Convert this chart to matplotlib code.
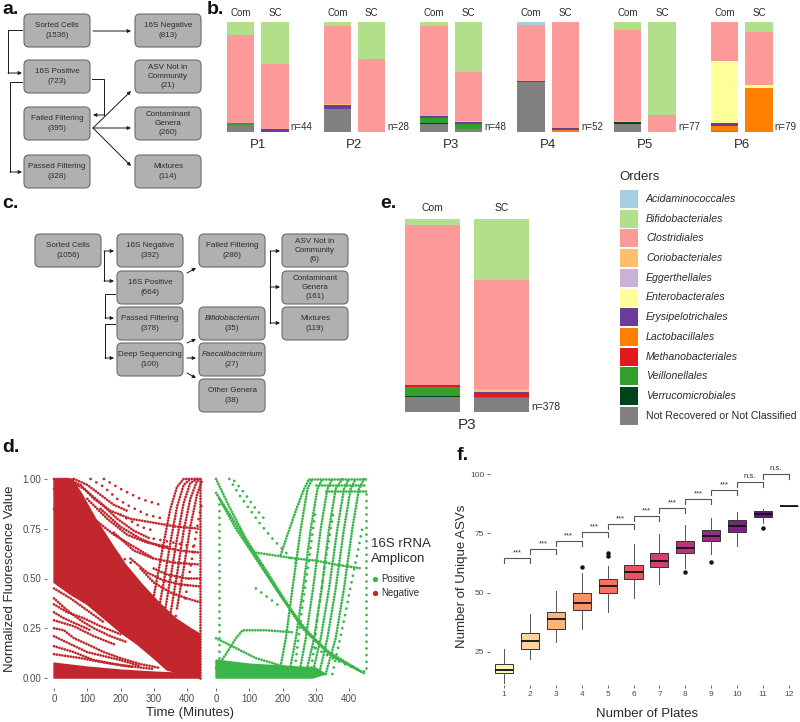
import numpy as np
import matplotlib.pyplot as plt
from matplotlib.patches import FancyBboxPatch, Rectangle, Polygon

plt.rcParams['font.family'] = ['Liberation Sans', 'DejaVu Sans']

W, H = 800, 722

# ---------------- data ----------------
orders = ['Acidaminococcales', 'Bifidobacteriales', 'Clostridiales', 'Coriobacteriales',
          'Eggerthellales', 'Enterobacterales', 'Erysipelotrichales', 'Lactobacillales',
          'Methanobacteriales', 'Veillonellales', 'Verrucomicrobiales',
          'Not Recovered or Not Classified']
order_colors = ['#A6CEE3', '#B2DF8A', '#FB9A99', '#FDBF6F', '#CAB2D6', '#FFFF99',
                '#6A3D9A', '#FF7F00', '#E31A1C', '#33A02C', '#00441B', '#808080']

plates = ['P1', 'P2', 'P3', 'P4', 'P5', 'P6']
plate_n = [44, 28, 48, 52, 77, 79]
# fractions per order (same order as `orders`)
com_fracs = [
    [0, 0.116, 0.800, 0, 0, 0, 0, 0, 0, 0.021, 0, 0.063],
    [0, 0.040, 0.705, 0.005, 0, 0, 0.043, 0, 0, 0, 0, 0.207],
    [0, 0.034, 0.821, 0, 0, 0, 0.008, 0, 0.007, 0.045, 0.009, 0.076],
    [0.024, 0, 0.516, 0, 0, 0, 0.005, 0, 0, 0, 0, 0.455],
    [0, 0.076, 0.823, 0.010, 0, 0, 0, 0, 0, 0, 0.015, 0.076],
    [0, 0, 0.354, 0, 0, 0.561, 0.030, 0.046, 0, 0, 0, 0.009],
]
sc_fracs = [
    [0, 0.380, 0.595, 0, 0, 0, 0.025, 0, 0, 0, 0, 0],
    [0, 0.338, 0.662, 0, 0, 0, 0, 0, 0, 0, 0, 0],
    [0, 0.450, 0.453, 0.009, 0, 0, 0.018, 0, 0, 0.040, 0, 0.030],
    [0, 0, 0.963, 0, 0, 0, 0.015, 0.022, 0, 0, 0, 0],
    [0, 0.848, 0.152, 0, 0, 0, 0, 0, 0, 0, 0, 0],
    [0, 0.091, 0.482, 0, 0, 0.024, 0, 0.403, 0, 0, 0, 0],
]
deep_plate = 'P3'
deep_n = 378
deep_com = [0, 0.030, 0.829, 0, 0, 0, 0.006, 0, 0.006, 0.047, 0.004, 0.078]
deep_sc = [0, 0.316, 0.566, 0.012, 0, 0, 0.012, 0, 0.014, 0.008, 0, 0.072]

flow_a_labels = ['Sorted Cells', '16S Negative', '16S Positive', 'ASV Not in\nCommunity',
                 'Failed Filtering', 'Contaminant\nGenera', 'Passed Filtering', 'Mixtures']
flow_a_counts = [1536, 813, 723, 21, 395, 260, 328, 114]

flow_c_labels = ['Sorted Cells', '16S Negative', 'Failed Filtering', 'ASV Not in\nCommunity',
                 '16S Positive', 'Contaminant\nGenera', 'Passed Filtering', 'Bifidobacterium',
                 'Mixtures', 'Deep Sequencing', 'Faecalibacterium', 'Other Genera']
flow_c_counts = [1056, 392, 286, 6, 664, 161, 378, 35, 119, 100, 27, 38]
flow_c_italic = [False] * 7 + [True, False, False, True, False]

# fluorescence traces (time in minutes, normalized value)
neg_fill = [
    [(0, 1.0), (55, 1.0), (85, 0.92), (125, 0.8), (175, 0.67), (215, 0.57), (265, 0.47),
     (315, 0.38), (365, 0.3), (410, 0.25), (440, 0.22), (440, 0.0), (340, 0.04), (300, 0.1),
     (250, 0.17), (200, 0.23), (150, 0.3), (100, 0.37), (50, 0.42), (0, 0.48)],
    [(0, 0.0), (440, 0.0), (440, 0.02), (300, 0.03), (200, 0.04), (100, 0.055), (0, 0.075)],
]
neg_traces = [
    [(0, 1.0), (40, 1.0), (80, 0.97), (120, 0.9), (170, 0.84), (230, 0.8), (300, 0.78), (370, 0.76), (440, 0.75)],
    [(60, 1.0), (100, 0.97), (140, 0.92), (180, 0.87), (220, 0.84)],
    [(40, 1.0), (90, 0.95), (140, 0.88), (190, 0.8), (240, 0.74), (290, 0.7)],
    [(0, 0.95), (60, 0.88), (120, 0.8), (180, 0.72), (240, 0.66), (300, 0.6)],
    [(100, 0.9), (160, 0.8), (220, 0.72), (280, 0.68), (340, 0.66)],
    [(140, 0.85), (200, 0.76), (260, 0.7), (320, 0.66), (380, 0.64), (440, 0.63)],
    [(180, 0.73), (240, 0.64), (300, 0.6), (360, 0.58), (440, 0.57)],
    [(230, 0.6), (280, 0.53), (330, 0.49), (380, 0.47), (440, 0.46)],
    [(260, 0.55), (300, 0.48), (350, 0.43), (400, 0.4), (440, 0.38)],
    [(300, 0.55), (340, 0.52), (400, 0.5), (440, 0.5)],
    [(290, 0.32), (310, 0.5), (330, 0.68), (350, 0.85), (370, 0.96), (390, 1.0), (440, 1.0)],
    [(310, 0.3), (330, 0.48), (350, 0.68), (370, 0.86), (390, 0.97), (410, 1.0)],
    [(330, 0.3), (350, 0.5), (370, 0.7), (390, 0.88), (410, 0.98), (430, 1.0)],
    [(350, 0.32), (370, 0.52), (390, 0.74), (410, 0.9), (430, 0.99), (445, 1.0)],
    [(370, 0.35), (390, 0.55), (410, 0.76), (430, 0.92), (445, 0.99)],
    [(0, 0.25), (30, 0.24), (60, 0.2), (100, 0.17), (150, 0.13), (200, 0.1), (260, 0.07), (320, 0.05)],
    [(0, 0.21), (50, 0.17), (100, 0.13), (150, 0.11), (200, 0.09), (260, 0.06)],
    [(0, 0.16), (60, 0.13), (120, 0.09), (200, 0.065), (300, 0.045)],
    [(0, 0.12), (80, 0.1), (160, 0.075), (240, 0.055)],
    [(0, 0.45), (50, 0.4), (100, 0.34), (150, 0.28)],
    [(0, 0.4), (40, 0.34), (80, 0.29), (120, 0.25), (170, 0.21), (220, 0.18)],
    [(0, 0.37), (40, 0.33), (90, 0.3), (140, 0.26), (200, 0.22)],
    [(0, 0.33), (30, 0.3), (70, 0.27), (110, 0.24)],
    [(0, 0.29), (60, 0.26), (120, 0.21), (180, 0.17)],
    [(440, 0.0), (440, 1.0)],
]
neg_sparse = [
    [(110, 1.0), (150, 0.96), (190, 0.9), (230, 0.86), (280, 0.82), (330, 0.8)],
    [(150, 1.0), (200, 0.95), (260, 0.9), (320, 0.87)],
    [(395, 0.4), (415, 0.6), (435, 0.8), (445, 0.88)],
    [(200, 0.5), (260, 0.42), (320, 0.35), (380, 0.3)],
    [(300, 0.7), (360, 0.68), (420, 0.66)],
    [(0, 0.85), (60, 0.78), (120, 0.7), (180, 0.63), (240, 0.57)],
    [(200, 0.82), (260, 0.76), (300, 0.74)],
]
pos_fill = [
    [(0, 0.0), (290, 0.0), (330, 0.02), (300, 0.05), (200, 0.06), (100, 0.07), (0, 0.09)],
]
pos_traces = [
    [(0, 1.0), (40, 0.86), (90, 0.7), (170, 0.49), (250, 0.28), (330, 0.14), (430, 0.04)],
    [(0, 0.93), (50, 0.8), (100, 0.66), (180, 0.45), (260, 0.25), (340, 0.12), (440, 0.03)],
    [(10, 0.9), (60, 0.75), (120, 0.6), (200, 0.4), (280, 0.22), (360, 0.1), (450, 0.02)],
    [(120, 0.63), (160, 0.62), (200, 0.61), (240, 0.6)],
    [(195, 0.62), (215, 0.72), (240, 0.84), (265, 0.95), (280, 1.0)],
    [(0, 0.05), (30, 0.12), (60, 0.2), (80, 0.24), (150, 0.24), (230, 0.23)],
    [(0, 0.2), (60, 0.15), (120, 0.1), (200, 0.06), (280, 0.03)],
    [(190, 0.02), (210, 0.2), (230, 0.45), (255, 0.75), (275, 0.95), (290, 1.0)],
    [(220, 0.02), (240, 0.2), (262, 0.45), (285, 0.75), (305, 0.95), (320, 1.0)],
    [(250, 0.02), (270, 0.2), (292, 0.45), (315, 0.75), (335, 0.95), (350, 1.0)],
    [(270, 0.02), (295, 0.2), (318, 0.45), (340, 0.75), (360, 0.95), (380, 1.0)],
    [(290, 0.02), (315, 0.2), (340, 0.45), (365, 0.75), (385, 0.95), (400, 1.0)],
    [(310, 0.02), (335, 0.2), (360, 0.45), (385, 0.75), (405, 0.95), (420, 1.0)],
    [(330, 0.02), (360, 0.2), (385, 0.45), (410, 0.75), (430, 0.95), (445, 1.0)],
    [(280, 1.0), (450, 1.0)],
    [(300, 0.97), (450, 0.97)],
    [(330, 0.94), (450, 0.94)],
    [(240, 0.6), (300, 0.59), (360, 0.57), (440, 0.55)],
]
pos_sparse = [
    [(40, 1.0), (70, 0.92), (100, 0.85), (130, 0.78), (170, 0.7), (210, 0.63), (250, 0.56)],
    [(55, 0.99), (85, 0.93), (115, 0.86), (145, 0.8)],
    [(8, 0.1), (8, 0.9)],
    [(300, 0.15), (350, 0.1), (400, 0.06), (450, 0.03)],
    [(450, 0.05), (450, 0.95)],
    [(350, 0.02), (380, 0.25), (410, 0.5), (440, 0.75)],
    [(120, 0.45), (160, 0.4), (200, 0.35)],
    [(235, 0.02), (255, 0.3), (280, 0.6), (300, 0.85)],
    [(285, 0.02), (305, 0.3), (330, 0.6), (355, 0.85)],
]
neg_color = '#C1272D'
pos_color = '#39B54A'

# boxplot of unique ASVs vs number of plates
n_plates = list(range(1, 13))
asv_med = [17.4, 29.5, 38.9, 45.8, 52.8, 58.8, 63.5, 69.0, 73.9, 78.1, 83.2, 86.4]
asv_q1 = [16.0, 26.1, 34.8, 42.7, 49.7, 55.6, 60.7, 66.6, 71.6, 75.6, 81.9, 86.4]
asv_q3 = [19.8, 32.9, 41.7, 49.7, 55.8, 61.7, 66.6, 71.8, 76.4, 80.6, 84.4, 86.4]
asv_lo = [12.1, 21.9, 29.1, 34.8, 41.7, 47.9, 53.7, 60.3, 66.2, 69.7, 79.2, 86.4]
asv_hi = [26.1, 40.9, 50.7, 58.2, 61.2, 70.4, 74.6, 78.5, 81.6, 84.1, 85.3, 86.4]
asv_out = [[], [], [], [60.8], [66.6, 65.6], [], [], [58.6], [62.8], [], [77.4], []]
sig_y = [64.5, 68.3, 71.8, 75.4, 78.8, 82.3, 85.8, 89.5, 93.3, 96.8, 100.2]
sig_text = ['***'] * 9 + ['n.s.'] * 2

# ---------------- figure ----------------
fig = plt.figure(figsize=(W / 100, H / 100), dpi=100)


def px_axes(x0, y0, x1, y1):
    ax = fig.add_axes([x0 / W, 1 - y1 / H, (x1 - x0) / W, (y1 - y0) / H])
    ax.set_facecolor('none')
    return ax


ov = fig.add_axes([0, 0, 1, 1])
ov.set_xlim(0, W)
ov.set_ylim(H, 0)
ov.axis('off')

txt_col = '#2b2b2b'


def box(x0, y0, w, h, label, count, italic=False):
    ov.add_patch(FancyBboxPatch((x0, y0), w, h, boxstyle='round,pad=0,rounding_size=5',
                                fc='#B0B0B0', ec='#6a6a6a', lw=0.8))
    lines = label.split('\n') + ['(%d)' % count]
    n = len(lines)
    for k, ln in enumerate(lines):
        yy = y0 + h / 2 + (k - (n - 1) / 2) * 9.4
        style = 'italic' if (italic and k < n - 1) else 'normal'
        ov.text(x0 + w / 2, yy, ln, ha='center', va='center', fontsize=5.8,
                color=txt_col, style=style)


def arrow(x0, y0, x1, y1):
    ov.annotate('', xy=(x1, y1), xytext=(x0, y0),
                arrowprops=dict(arrowstyle='-|>', color='#1a1a1a', lw=0.7,
                                mutation_scale=5, shrinkA=0, shrinkB=0))


def line(xs, ys):
    ov.plot(xs, ys, color='#1a1a1a', lw=0.7)


# panel a
a_cols = [24, 135]
a_rows = [14, 60, 107, 155]
for i, (lab, cnt) in enumerate(zip(flow_a_labels, flow_a_counts)):
    box(a_cols[i % 2], a_rows[i // 2], 66, 33, lab, cnt)
arrow(93, 31, 131, 31)
line([22, 8, 8], [30, 30, 73])
arrow(8, 73, 22, 73)
line([22, 10, 10], [82, 82, 172])
arrow(10, 172, 22, 172)
line([92, 104, 104], [79, 79, 115])
arrow(104, 115, 93, 115)
arrow(93, 128, 131, 91)
arrow(93, 128, 131, 128)
arrow(93, 128, 131, 166)

# panel c
c_cols = [35, 117, 199, 282]
c_rows = [234, 271, 307, 343, 379]
c_grid = [(0, 0), (1, 0), (2, 0), (3, 0), (1, 1), (3, 1), (1, 2), (2, 2), (3, 2),
          (1, 3), (2, 3), (2, 4)]
for (ci, ri), lab, cnt, it in zip(c_grid, flow_c_labels, flow_c_counts, flow_c_italic):
    box(c_cols[ci], c_rows[ri], 66, 33, lab, cnt, it)
line([104, 104], [251, 281])
arrow(104, 251, 114, 251)
arrow(104, 281, 114, 281)
line([115, 105, 105], [294, 294, 318])
arrow(105, 318, 114, 318)
line([115, 105, 105], [324, 324, 358])
arrow(105, 358, 114, 358)
arrow(187, 273, 196, 268)
line([270, 270], [251, 323])
for yy in (251, 287, 323):
    arrow(270, yy, 280, yy)
arrow(187, 343, 196, 339)
arrow(187, 358, 196, 358)
arrow(187, 373, 196, 378)

# panel letters
for s, (x, y) in zip(['a.', 'b.', 'c.', 'e.', 'd.', 'f.'],
                     [(2, 9), (207, 10), (2, 203), (380, 203), (2, 447), (457, 456)]):
    ov.text(x, y, s, fontsize=14, fontweight='bold', va='center', ha='left', color='#111')


# panel b
def stack(ax, x, fracs):
    bottom = 0.0
    for j in range(len(orders) - 1, -1, -1):
        if fracs[j] > 0:
            ax.bar(x, fracs[j], bottom=bottom, width=1.0, color=order_colors[j], lw=0)
            bottom += fracs[j]


axb = px_axes(200, 22, 800, 132)
step, off = 3.52, 1.25
for i, p in enumerate(plates):
    xc = i * step
    stack(axb, xc, com_fracs[i])
    stack(axb, xc + off, sc_fracs[i])
    axb.text(xc, 1.04, 'Com', ha='center', va='bottom', fontsize=7, color=txt_col)
    axb.text(xc + off, 1.04, 'SC', ha='center', va='bottom', fontsize=7, color=txt_col)
    axb.text(xc + off + 0.58, 0, 'n=%d' % plate_n[i], ha='left', va='bottom',
             fontsize=7, color=txt_col)
    axb.text(xc + off / 2, -0.06, p, ha='center', va='top', fontsize=9.5, color=txt_col)
axb.set_xlim(-1.473, 20.345)
axb.set_ylim(0, 1)
axb.axis('off')

# panel e
axe = px_axes(405, 219, 529, 412)
stack(axe, 0, deep_com)
stack(axe, off, deep_sc)
axe.text(0, 1.03, 'Com', ha='center', va='bottom', fontsize=7.5, color=txt_col)
axe.text(off, 1.03, 'SC', ha='center', va='bottom', fontsize=7.5, color=txt_col)
axe.text(off + 0.55, 0, 'n=%d' % deep_n, ha='left', va='bottom', fontsize=7.5, color=txt_col)
axe.text(off / 2, -0.03, deep_plate, ha='center', va='top', fontsize=11, color=txt_col)
axe.set_xlim(-0.5, 1.75)
axe.set_ylim(0, 1)
axe.axis('off')

# legend for orders
ov.text(619, 177, 'Orders', fontsize=9.5, va='center', ha='left', color=txt_col)
for i, (o, c) in enumerate(zip(orders, order_colors)):
    y0 = 190 + i * 19.7
    ov.add_patch(Rectangle((620, y0), 18, 18, fc=c, ec='none'))
    ov.text(646, y0 + 9, o, fontsize=7.6, va='center', ha='left', color=txt_col,
            style='normal' if i == len(orders) - 1 else 'italic')


# panel d
def dotted(ax, pts, color, gap):
    t = [p[0] for p in pts]
    v = [p[1] for p in pts]
    ax.plot(t, v, color=color, lw=2.0, linestyle=(0, (0.01, gap)),
            dash_capstyle='round', clip_on=False)


def style_axis(ax):
    for sp in ax.spines.values():
        sp.set_visible(False)
    ax.tick_params(length=2.5, width=0.5, color='#333333', labelsize=7,
                   labelcolor='#4D4D4D', pad=1.5)


axd1 = px_axes(46.7, 469, 207.6, 688)
axd2 = px_axes(208.7, 469, 369.6, 688)
for ax, fills, dense, sparse, col in [(axd1, neg_fill, neg_traces, neg_sparse, neg_color),
                                      (axd2, pos_fill, pos_traces, pos_sparse, pos_color)]:
    for poly in fills:
        ax.add_patch(Polygon(poly, closed=True, fc=col, ec=col, lw=1.0))
    for tr in dense:
        dotted(ax, tr, col, 1.0)
    for tr in sparse:
        dotted(ax, tr, col, 2.4)
    ax.set_xlim(-22, 462)
    ax.set_ylim(-0.05, 1.05)
    ax.set_xticks([0, 100, 200, 300, 400])
    ax.set_yticks([0, 0.25, 0.5, 0.75, 1.0])
    style_axis(ax)
axd1.set_yticklabels(['0.00', '0.25', '0.50', '0.75', '1.00'])
axd2.tick_params(axis='y', length=0, labelleft=False)
axd1.set_ylabel('Normalized Fluorescence Value', fontsize=9.5, color=txt_col)
axd1.yaxis.set_label_coords(-0.19, 0.5)
ov.text(190, 713, 'Time (Minutes)', ha='center', va='center', fontsize=9.5, color=txt_col)
ov.text(371, 544, '16S rRNA', ha='left', va='center', fontsize=9.5, color=txt_col)
ov.text(371, 559, 'Amplicon', ha='left', va='center', fontsize=9.5, color=txt_col)
ov.plot([375], [579], 'o', ms=2.8, color=pos_color)
ov.plot([375], [593], 'o', ms=2.8, color=neg_color)
ov.text(381, 579, 'Positive', ha='left', va='center', fontsize=7, color=txt_col)
ov.text(381, 593, 'Negative', ha='left', va='center', fontsize=7, color=txt_col)

# panel f
axf = px_axes(489.8, 466.9, 799.8, 685.2)
stats = []
for k in range(len(n_plates)):
    stats.append(dict(med=asv_med[k], q1=asv_q1[k], q3=asv_q3[k], whislo=asv_lo[k],
                      whishi=asv_hi[k], fliers=asv_out[k]))
box_cols = plt.cm.magma(np.linspace(0.98, 0.22, len(n_plates)))
bp = axf.bxp(stats, positions=n_plates, widths=0.7, patch_artist=True, showcaps=False,
             boxprops=dict(ec='#333333', lw=0.7),
             medianprops=dict(color='#111111', lw=1.3),
             whiskerprops=dict(color='#555555', lw=0.7),
             flierprops=dict(marker='o', ms=2.2, mfc='#111111', mec='#111111'))
for patch, c in zip(bp['boxes'], box_cols):
    patch.set_facecolor(c)
for i, (yb, s) in enumerate(zip(sig_y, sig_text)):
    x0, x1 = n_plates[i], n_plates[i + 1]
    axf.plot([x0, x0, x1, x1], [yb - 2.1, yb, yb, yb - 2.1], color='#555555', lw=0.8)
    axf.text((x0 + x1) / 2, yb + 0.7, s, ha='center', va='bottom', fontsize=5.5,
             color=txt_col)
axf.set_xlim(0.45, 12.42)
axf.set_ylim(11, 103)
axf.set_yticks([25, 50, 75, 100])
axf.set_xticks(n_plates)
style_axis(axf)
axf.tick_params(labelsize=6)
axf.set_ylabel('Number of Unique ASVs', fontsize=9.5, color=txt_col)
axf.yaxis.set_label_coords(-0.07, 0.5)
ov.text(647, 714, 'Number of Plates', ha='center', va='center', fontsize=9.5, color=txt_col)

fig.savefig('out.png', dpi=100)
